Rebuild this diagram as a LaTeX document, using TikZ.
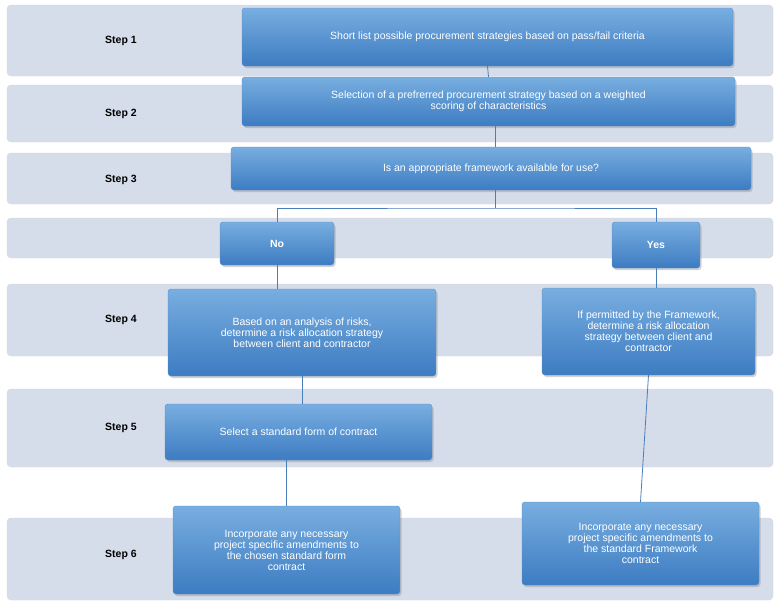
\documentclass[tikz,border=0pt]{standalone}
\usepackage{fontspec}
\setmainfont{Liberation Sans}
\usetikzlibrary{shadows}
\begin{document}
\begin{tikzpicture}[x=1pt,y=-1pt,
 band/.style={draw=black!15,fill=bandc,rounded corners=4pt},
 box/.style={draw=boxb,top color=boxt,bottom color=boxbot,rounded corners=3pt,
   drop shadow={shadow xshift=1.5pt,shadow yshift=-2pt,opacity=0.35},
   text=white,align=center,font=\fontsize{10.5}{11}\selectfont,inner sep=2pt},
 lbl/.style={font=\bfseries\fontsize{10.5}{12}\selectfont},
 con/.style={draw=linec,line width=0.8pt}]
\definecolor{bandc}{HTML}{D5DDEA}
\definecolor{boxt}{HTML}{78AEE0}
\definecolor{boxbot}{HTML}{3D7CC2}
\definecolor{boxb}{HTML}{5B8FCB}
\definecolor{linec}{HTML}{4A7EBB}
\useasboundingbox[fill=white] (0,0) rectangle (779,605);
\foreach \a/\b in {5/76,85/142,153/204,218/258,284/356,389/467,518/600}
  \draw[band] (7,\a) rectangle (773,\b);
\node[lbl] at (121,41) {Step 1};
\node[lbl] at (121,114) {Step 2};
\node[lbl] at (121,180) {Step 3};
\node[lbl] at (121,320) {Step 4};
\node[lbl] at (121,428) {Step 5};
\node[lbl] at (121,555) {Step 6};
\node[box,minimum width=491pt,minimum height=58pt] (b1) at (487.5,37) {Short list possible procurement strategies based on pass/fail criteria};
\node[box,minimum width=493pt,minimum height=49pt] (b2) at (488.5,101.5) {Selection of a prefrerred procurement strategy based on a weighted\\scoring of characteristics};
\node[box,minimum width=520pt,minimum height=43pt] (b3) at (491,168.5) {Is an appropriate framework available for use?};
\node[box,font=\bfseries\fontsize{10.5}{11}\selectfont,minimum width=114pt,minimum height=43pt] (no) at (277,243.5) {No};
\node[box,font=\bfseries\fontsize{10.5}{11}\selectfont,minimum width=88pt,minimum height=46pt] (yes) at (656,245) {Yes};
\node[box,minimum width=268pt,minimum height=87pt] (b4l) at (302,332.5) {Based on an analysis of risks,\\determine a risk allocation strategy\\between client and contractor};
\node[box,minimum width=213pt,minimum height=87pt] (b4r) at (648.5,331.5) {If permitted by the Framework,\\determine a risk allocation\\strategy between client and\\contractor};
\node[box,minimum width=267pt,minimum height=56pt] (b5) at (298.5,432) {Select a standard form of contract};
\node[box,minimum width=227pt,minimum height=88pt] (b6l) at (286.5,550) {Incorporate any necessary\\project specific amendments to\\the chosen standard form\\contract};
\node[box,minimum width=237pt,minimum height=83pt] (b6r) at (640.5,543.5) {Incorporate any necessary\\project specific amendments to\\the standard Framework\\contract};
\coordinate (j) at (495,208);
\draw[con] (b1.south) -- (b2.north);
\draw[con] (b2.south -| j) -- (b3.north -| j);
\draw[con] (b3.south -| j) -- (j);
\draw[con] (no.north) |- (j) -| (yes.north);
\draw[con] (no.south) -- (no.south |- b4l.north);
\draw[con] (b4l.south) -- (b4l.south |- b5.north);
\draw[con] (b5.south -| b6l.north) -- (b6l.north);
\draw[con] (yes.south) -- (yes.south |- b4r.north);
\draw[con] (b4r.south) -- (b6r.north);
\end{tikzpicture}
\end{document}
